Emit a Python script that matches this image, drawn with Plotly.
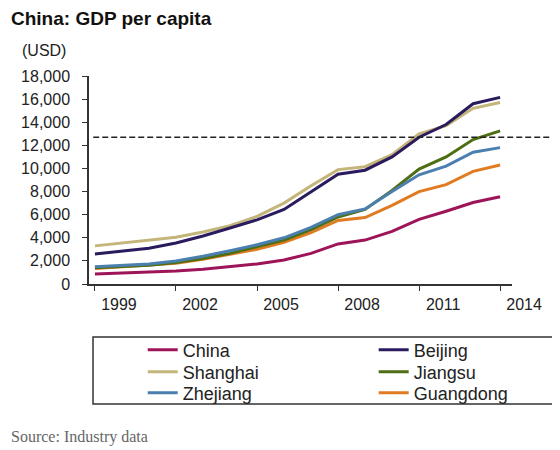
import plotly.graph_objects as go

years = list(range(1999, 2015))

china = [870, 950, 1040, 1130, 1270, 1490, 1730, 2070, 2650, 3470, 3800, 4550, 5600, 6300, 7050, 7550]
beijing = [2600, 2850, 3100, 3550, 4150, 4850, 5550, 6450, 8000, 9500, 9850, 11000, 12700, 13800, 15600, 16150]
shanghai = [3300, 3550, 3750, 4050, 4500, 5050, 5850, 7000, 8500, 9900, 10150, 11200, 13000, 13700, 15200, 15700]
jiangsu = [1400, 1500, 1630, 1850, 2200, 2650, 3200, 3800, 4700, 5800, 6450, 8100, 9950, 11000, 12500, 13250]
zhejiang = [1500, 1590, 1730, 2000, 2400, 2880, 3400, 4000, 4900, 6000, 6500, 8000, 9450, 10200, 11400, 11800]
guangdong = [1350, 1500, 1620, 1800, 2150, 2600, 3000, 3600, 4450, 5500, 5750, 6800, 8000, 8600, 9750, 10300]

threshold = 12700
tick_years = [1999, 2002, 2005, 2008, 2011, 2014]

# name, values, colour, legend slot (one legend per entry, laid out 2 cols x 3 rows)
series = [
    ("China", china, "#9E1458", "legend"),
    ("Beijing", beijing, "#2A1B5E", "legend2"),
    ("Shanghai", shanghai, "#C4B57A", "legend3"),
    ("Jiangsu", jiangsu, "#4E6E14", "legend4"),
    ("Zhejiang", zhejiang, "#4A7FAF", "legend5"),
    ("Guangdong", guangdong, "#E07B22", "legend6"),
]
draw_order = ["China", "Guangdong", "Jiangsu", "Zhejiang", "Shanghai", "Beijing"]

fig = go.Figure()

for key in draw_order:
    name, vals, color, leg = next(s for s in series if s[0] == key)
    fig.add_trace(go.Scatter(
        x=years, y=vals, name=name, mode="lines",
        line=dict(color=color, width=3),
        legend=leg,
    ))

# dashed reference line
fig.add_shape(type="line", xref="paper", yref="y", x0=0.01, x1=1.12,
              y0=threshold, y1=threshold,
              line=dict(color="#222222", width=1.6, dash="6px,3px"))

# legend frame
fig.add_shape(type="rect", xref="paper", yref="paper",
              x0=0.0095, x1=1.1, y0=-0.255, y1=-0.577,
              line=dict(color="#333333", width=1.5))

col_x = [0.127, 0.673]
row_y = [-0.317, -0.423, -0.524]


def leg(col, row):
    return dict(
        orientation="v", xanchor="left", yanchor="middle",
        x=col_x[col], y=row_y[row],
        font=dict(size=18), itemwidth=30, tracegroupgap=0,
        bgcolor="rgba(0,0,0,0)", borderwidth=0,
    )


# the page body adds an 8px offset, so the figure is 8px smaller than the window
fig.update_layout(
    width=552, height=442,
    margin=dict(l=81, r=48, t=68, b=166, autoexpand=False),
    paper_bgcolor="white", plot_bgcolor="white",
    font=dict(family="Liberation Sans, Arial, sans-serif", size=16, color="#222222"),
    showlegend=True,
    legend=leg(0, 0), legend2=leg(1, 0),
    legend3=leg(0, 1), legend4=leg(1, 1),
    legend5=leg(0, 2), legend6=leg(1, 2),
    xaxis=dict(
        range=[1998.78, 2014.44], tickvals=tick_years,
        ticktext=[str(y) for y in tick_years],
        showline=True, linecolor="#333333", linewidth=1.5,
        ticks="outside", ticklen=5, tickcolor="#333333",
        showgrid=False, zeroline=False, ticklabelshift=24,
    ),
    yaxis=dict(
        range=[0, 18000], dtick=2000, tickformat=",",
        showline=True, linecolor="#333333", linewidth=1.5,
        ticks="outside", ticklen=5, tickcolor="#333333",
        showgrid=False, zeroline=False, ticklabelstandoff=9,
    ),
    annotations=[
        dict(text="<b>China: GDP per capita</b>", xref="paper", yref="paper",
             x=-0.19, y=1.276, xanchor="left", yanchor="middle", showarrow=False,
             font=dict(size=19, color="#111111")),
        dict(text="(USD)", xref="paper", yref="paper",
             x=-0.163, y=1.125, xanchor="left", yanchor="middle", showarrow=False,
             font=dict(size=16, color="#222222")),
        dict(text="Source: Industry data", xref="paper", yref="paper",
             x=-0.19, y=-0.736, xanchor="left", yanchor="middle", showarrow=False,
             font=dict(family="Liberation Serif, Times New Roman, serif", size=16, color="#666666")),
    ],
)

fig.write_html("out.html")
